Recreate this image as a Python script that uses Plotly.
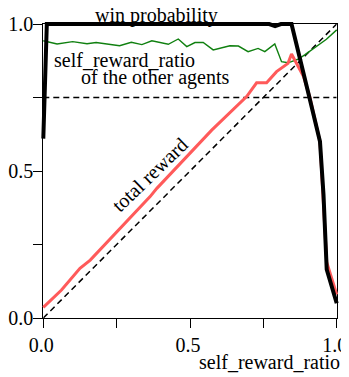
import plotly.graph_objects as go

# ---------------- data ----------------
win_x = [0.0, 0.012, 0.77, 0.79, 0.81, 0.846, 0.907, 0.943, 0.955, 0.966, 1.0]
win_y = [0.61, 1.0, 1.0, 0.993, 1.0, 1.0, 0.75, 0.60, 0.42, 0.165, 0.05]

total_x = [0.0, 0.062, 0.125, 0.16, 0.364, 0.387, 0.574, 0.693, 0.727, 0.761,
           0.795, 0.834, 0.846, 0.887, 0.908, 0.943, 0.966, 1.0]
total_y = [0.036, 0.095, 0.169, 0.197, 0.413, 0.441, 0.639, 0.753, 0.800, 0.800,
           0.838, 0.866, 0.898, 0.821, 0.753, 0.60, 0.19, 0.08]

other_x = [0.0, 0.047, 0.10, 0.149, 0.18, 0.217, 0.26, 0.30, 0.336, 0.37, 0.426,
           0.46, 0.489, 0.517, 0.545, 0.579, 0.636, 0.665, 0.698, 0.732, 0.755,
           0.789, 0.812, 0.834, 0.868, 0.891, 0.931, 0.965, 1.0]
other_y = [0.943, 0.932, 0.940, 0.933, 0.937, 0.931, 0.926, 0.938, 0.930, 0.943, 0.931,
           0.949, 0.923, 0.937, 0.937, 0.912, 0.926, 0.925, 0.906, 0.917, 0.906,
           0.932, 0.872, 0.868, 0.880, 0.895, 0.923, 0.948, 0.98]

ref_diag_x = [0.0, 1.0]
ref_diag_y = [0.0, 1.0]
ref_level_x = [0.0, 1.0]
ref_level_y = [0.75, 0.75]

tick_vals = [0.0, 0.25, 0.5, 0.75, 1.0]
tick_text = ["0.0", "", "0.5", "", "1.0"]

# ---------------- layout geometry (page pixels) ----------------
PAGE_W, PAGE_H = 349, 377
OFF = 8                      # default body margin of the html page
W, H = PAGE_W - OFF, PAGE_H - OFF
box_l, box_r, box_t, box_b = 43.3 - OFF, 336.7 - OFF, 24.0 - OFF, 318.0 - OFF
m_l, m_r, m_t, m_b = 25, 4, 6, 49
area_w = W - m_l - m_r
area_h = H - m_t - m_b
x_dom = [(box_l - m_l) / area_w, (box_r - m_l) / area_w]
y_dom = [(H - m_b - box_b) / area_h, (H - m_b - box_t) / area_h]
sx = box_r - box_l
sy = box_b - box_t
x2_range = [(m_l - box_l) / sx, (W - m_r - box_l) / sx]
y2_range = [(box_b - (H - m_b)) / sy, (box_b - m_t) / sy]


def px(xd):
    """data x -> paper x"""
    return x_dom[0] + xd * (x_dom[1] - x_dom[0])


def py(yd):
    """data y -> paper y"""
    return y_dom[0] + yd * (y_dom[1] - y_dom[0])


FONT = "Liberation Serif"

fig = go.Figure()
dash_style = dict(color="black", width=1.5, dash="6px,4px")
fig.add_trace(go.Scatter(x=ref_diag_x, y=ref_diag_y, mode="lines", line=dash_style,
                         xaxis="x", yaxis="y", hoverinfo="skip", cliponaxis=False))
fig.add_trace(go.Scatter(x=ref_level_x, y=ref_level_y, mode="lines", line=dash_style,
                         xaxis="x", yaxis="y", hoverinfo="skip", cliponaxis=False))
fig.add_trace(go.Scatter(x=other_x, y=other_y, mode="lines",
                         line=dict(color="#108010", width=1.4), xaxis="x2", yaxis="y2"))
fig.add_trace(go.Scatter(x=total_x, y=total_y, mode="lines",
                         line=dict(color="#ff5a5a", width=3), xaxis="x2", yaxis="y2"))
fig.add_trace(go.Scatter(x=win_x, y=win_y, mode="lines",
                         line=dict(color="black", width=4), xaxis="x2", yaxis="y2"))

axis_common = dict(
    range=[0, 1], tickvals=tick_vals, ticktext=tick_text, ticks="outside",
    ticklen=9, tickwidth=1, tickcolor="black", showline=True, linecolor="black",
    linewidth=1, mirror=True, showgrid=False, zeroline=False,
    automargin=False, ticklabeloverflow="allow",
    tickfont=dict(family=FONT, size=20, color="black"),
)
fig.update_layout(
    width=W, height=H,
    margin=dict(l=m_l, r=m_r, t=m_t, b=m_b, pad=0, autoexpand=False),
    plot_bgcolor="rgba(0,0,0,0)", paper_bgcolor="white", showlegend=False,
    xaxis=dict(domain=x_dom, anchor="y", ticklabelshift=-2, **axis_common),
    yaxis=dict(domain=y_dom, anchor="x", ticklabelstandoff=-4, **axis_common),
    xaxis2=dict(domain=[0, 1], range=x2_range, anchor="y2", visible=False, automargin=False),
    yaxis2=dict(domain=[0, 1], range=y2_range, anchor="x2", visible=False, automargin=False),
    font=dict(family=FONT, size=20, color="black"),
)

ann = dict(showarrow=False, xref="paper", yref="paper", xanchor="center", yanchor="middle",
           font=dict(family=FONT, size=20, color="black"))
fig.add_annotation(text="win probability", x=px(0.386), y=py(1.029), **ann)
fig.add_annotation(text="self_reward_ratio", x=px(0.276), y=py(0.878), **ann)
fig.add_annotation(text="of the other agents", x=px(0.381), y=py(0.818), **ann)
fig.add_annotation(text="total reward", x=px(0.362), y=py(0.486), textangle=-44, **ann)
fig.add_annotation(text="self_reward_ratio", x=px(0.772), y=py(-0.149), **ann)

fig.write_html("out.html")
